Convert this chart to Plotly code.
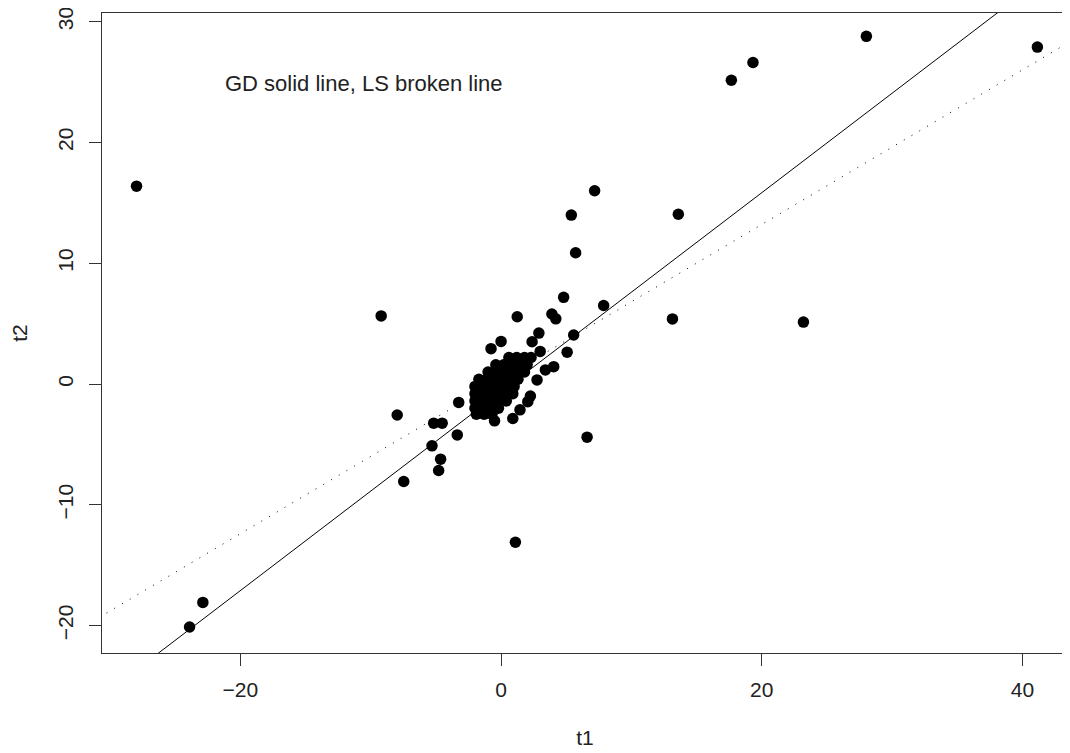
import plotly.graph_objects as go

# Scatter data (t1, t2)
t1 = [-27.97, -23.9, -22.88, -9.2, -7.97, -7.47, -5.17, -4.52, -3.36, -5.3,
      -4.64, -4.79, -3.25, 1.1, 5.39, 7.18, 5.72, 4.8, 7.87, 3.9,
      4.2, 1.24, 5.57, 2.9, 2.38, 0.0, -0.77, 3.0, 5.07, 4.04,
      3.4, 6.6, 13.6, 13.15, 17.67, 19.33, 23.2, 28.03, 41.15, -0.5,
      0.9, 2.05, 1.45, 2.25, 2.76,
      # dense cluster near the origin
      0.6, 1.2, 1.8, 2.3,
      -0.4, 0.2, 0.8, 1.4, 2.0,
      -1.0, -0.4, 0.2, 0.8, 1.3, 1.8,
      -1.7, -1.1, -0.5, 0.1, 0.7, 1.3,
      -2.0, -1.4, -0.8, -0.2, 0.4, 1.0,
      -2.0, -1.4, -0.8, -0.2, 0.4, 0.9,
      -2.0, -1.4, -0.8, -0.2, 0.4,
      -2.0, -1.4, -0.8, -0.2,
      -1.9, -1.3, -0.7]
t2 = [16.38, -20.12, -18.08, 5.64, -2.56, -8.07, -3.24, -3.24, -4.21, -5.12,
      -6.22, -7.16, -1.52, -13.1, 13.99, 16.0, 10.87, 7.18, 6.5, 5.8,
      5.4, 5.57, 4.06, 4.22, 3.5, 3.53, 2.93, 2.7, 2.64, 1.44,
      1.17, -4.4, 14.06, 5.39, 25.15, 26.62, 5.13, 28.79, 27.9, -3.05,
      -2.85, -1.46, -2.14, -1.0, 0.34,
      2.2, 2.2, 2.2, 2.2,
      1.6, 1.6, 1.6, 1.6, 1.6,
      1.0, 1.0, 1.0, 1.0, 1.0, 1.0,
      0.4, 0.4, 0.4, 0.4, 0.4, 0.4,
      -0.2, -0.2, -0.2, -0.2, -0.2, -0.2,
      -0.8, -0.8, -0.8, -0.8, -0.8, -0.8,
      -1.4, -1.4, -1.4, -1.4, -1.4,
      -2.0, -2.0, -2.0, -2.0,
      -2.5, -2.5, -2.5]

# Fitted lines: intercept, slope
line_names = ["GD", "LS"]
intercepts = [-0.63, 0.41]
slopes = [0.8235, 0.640]
line_dash = ["solid", "1px,8px"]

x_ticks = [-20, 0, 20, 40]
y_ticks = [-20, -10, 0, 10, 20, 30]
x_range = [-30.62, 43.5]
y_range = [-22.27, 30.72]

FONT = "Arial, Liberation Sans, sans-serif"
TXT = "#222222"
FS = 21

fig = go.Figure()

for name, a, b, d in zip(line_names, intercepts, slopes, line_dash):
    xs = [x_range[0] - 5, x_range[1] + 5]
    ys = [a + b * x for x in xs]
    fig.add_trace(go.Scatter(x=xs, y=ys, mode="lines", name=name,
                             line=dict(color="black", width=1, dash=d),
                             hoverinfo="skip"))

fig.add_trace(go.Scatter(x=t1, y=t2, mode="markers", name="points",
                         marker=dict(symbol="circle", size=11.5, color="black",
                                     line=dict(width=0))))

fig.add_annotation(x=-21.3, y=24.9, xref="x", yref="y",
                   text="GD solid line, LS broken line", showarrow=False,
                   xanchor="left", yanchor="middle",
                   font=dict(family=FONT, size=22, color=TXT))

# page body has an 8px margin, so the figure is sized to the visible area
fig.update_layout(
    width=1062, height=745,
    margin=dict(l=94, r=2, t=5, b=100),
    paper_bgcolor="white", plot_bgcolor="white",
    showlegend=False,
    font=dict(family=FONT, size=FS, color=TXT),
)
fig.update_xaxes(range=x_range, tickmode="array", tickvals=x_ticks,
                 ticks="outside", ticklen=12, tickcolor="#333", tickwidth=1,
                 showline=True, linecolor="#333", linewidth=1, mirror=True,
                 showgrid=False, zeroline=False, automargin=False,
                 ticklabeloverflow="allow",
                 title=dict(text="t1", standoff=30, font=dict(size=FS)),
                 tickfont=dict(size=FS, color=TXT), ticklabelstandoff=6)
fig.update_yaxes(range=y_range, tickmode="array", tickvals=y_ticks,
                 ticks="outside", ticklen=12, tickcolor="#333", tickwidth=1,
                 showline=True, linecolor="#333", linewidth=1, mirror=True,
                 showgrid=False, zeroline=False, tickangle=-90, automargin=False,
                 ticklabeloverflow="allow",
                 title=dict(text="t2", standoff=28, font=dict(size=FS)),
                 tickfont=dict(size=FS, color=TXT), ticklabelstandoff=8)

fig.write_html("out.html")
